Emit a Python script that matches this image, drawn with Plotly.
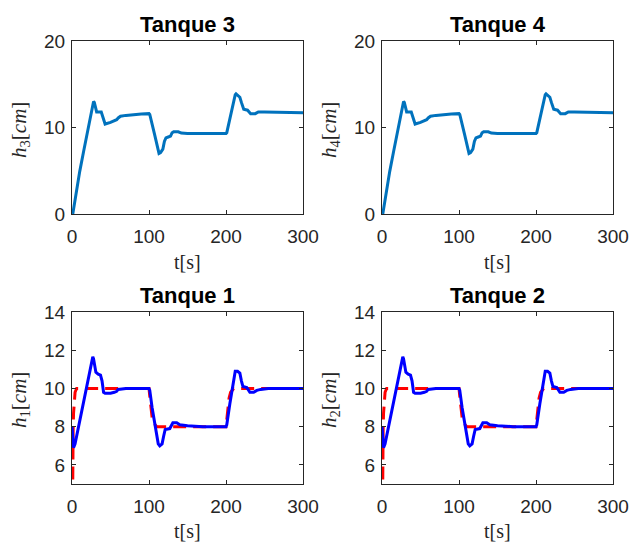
import plotly.graph_objects as go

# ---------------- data ----------------
t_h3 = [1, 5, 10, 15, 20, 25, 28, 29, 31, 32, 38, 40, 43, 50, 58, 60, 63, 70, 80, 90, 100,
        101, 107, 113, 115, 118, 120, 122, 125, 128, 130, 132, 138, 142, 150, 175, 200,
        201, 207, 212, 213, 216, 218, 220, 223, 228, 229, 232, 238, 240, 242, 250, 270, 300]
h3 = [0, 2.4, 4.9, 7.2, 9.3, 11.6, 13.0, 12.9, 12.0, 11.8, 11.8, 11.3, 10.4, 10.6, 10.9, 11.1,
      11.3, 11.4, 11.5, 11.55, 11.6,
      11.5, 9.3, 7.0, 7.1, 7.5, 8.4, 8.8, 8.9, 9.0, 9.4, 9.5, 9.5, 9.35, 9.3, 9.3, 9.3,
      9.4, 11.9, 13.8, 13.9, 13.7, 13.5, 12.9, 12.1, 12.0, 11.9, 11.6, 11.6, 11.7, 11.8, 11.8,
      11.75, 11.7]
t_h4 = list(t_h3)
h4 = list(h3)

t_h1 = [0, 2, 4, 10, 15, 20, 25, 27, 28, 30, 31, 34, 37, 39, 41, 43, 50, 55, 58, 60, 70, 100,
        101, 104, 108, 112, 114, 117, 119, 121, 127, 129, 131, 136, 140, 150, 170, 200,
        201, 205, 209, 212, 215, 218, 220, 222, 227, 229, 231, 236, 240, 245, 255, 300]
h1 = [8.0, 6.9, 7.1, 8.3, 9.4, 10.4, 11.3, 11.65, 11.55, 11.0, 10.85, 10.75, 10.7, 10.4, 9.8,
      9.75, 9.75, 9.8, 9.85, 9.95, 10.0, 10.0,
      9.9, 9.0, 8.0, 7.1, 7.0, 7.1, 7.5, 7.85, 7.9, 8.1, 8.2, 8.2, 8.1, 8.05, 8.0, 8.0,
      8.1, 9.2, 10.3, 10.9, 10.9, 10.8, 10.4, 10.1, 10.05, 9.9, 9.8, 9.8, 9.9, 9.95, 10.0, 10.0]
t_h2 = list(t_h1)
h2 = list(h1)

t_ref = [0, 0.5, 1, 1.5, 2, 3, 4, 6, 100, 101, 102, 103, 104, 106, 110, 200, 201, 202, 203,
         204, 206, 210, 300]
ref = [0, 4.5, 6.5, 7.8, 8.7, 9.5, 9.8, 10.0, 10.0, 9.6, 9.2, 8.8, 8.5, 8.2, 8.0, 8.0, 8.4,
       8.8, 9.2, 9.5, 9.8, 10.0, 10.0]

titles = ["Tanque 3", "Tanque 4", "Tanque 1", "Tanque 2"]
ylabels = ["<i>h</i><sub>3</sub>[<i>cm</i>]", "<i>h</i><sub>4</sub>[<i>cm</i>]",
           "<i>h</i><sub>1</sub>[<i>cm</i>]", "<i>h</i><sub>2</sub>[<i>cm</i>]"]
xlabel = "t[s]"
x_ticks = [0, 100, 200, 300]
y_ticks_top = [0, 10, 20]
y_ticks_bot = [6, 8, 10, 12, 14]

# ---------------- layout geometry ----------------
W, H = 634, 543
def px_x(p):
    return p / W
def px_y(p):
    return (H - p) / H

xdom = [[px_x(72), px_x(303)], [px_x(382), px_x(613)]]
ydom = [[px_y(214), px_y(41)], [px_y(484), px_y(312)]]

fig = go.Figure()

panels = [
    (0, 0, t_h3, h3, "#0072BD"),
    (1, 0, t_h4, h4, "#0072BD"),
    (0, 1, t_h1, h1, "#0000FF"),
    (1, 1, t_h2, h2, "#0000FF"),
]

for i, (c, r, tt, hh, col) in enumerate(panels):
    ax = "" if i == 0 else str(i + 1)
    if r == 1:
        fig.add_trace(go.Scatter(x=t_ref, y=ref, mode="lines",
                                 line=dict(color="#FF0000", width=3, dash="13px,7px"),
                                 xaxis="x" + ax, yaxis="y" + ax, showlegend=False))
    fig.add_trace(go.Scatter(x=tt, y=hh, mode="lines",
                             line=dict(color=col, width=3),
                             xaxis="x" + ax, yaxis="y" + ax, showlegend=False))
    common = dict(showline=True, linecolor="#262626", linewidth=1, mirror="ticks",
                  ticks="inside", ticklen=4, tickcolor="#262626", tickwidth=1,
                  showgrid=False, zeroline=False, automargin=False,
                  tickfont=dict(family="Liberation Sans, Arial", size=19, color="#262626"))
    fig.update_layout(**{
        "xaxis" + ax: dict(domain=xdom[c], range=[0, 300], tickvals=x_ticks,
                           anchor="y" + ax, ticklabelstandoff=5, **common),
        "yaxis" + ax: dict(domain=ydom[r],
                           range=[0, 20] if r == 0 else [5, 14],
                           tickvals=y_ticks_top if r == 0 else y_ticks_bot,
                           anchor="x" + ax, ticklabelstandoff=2, **common),
    })
    xc = (xdom[c][0] + xdom[c][1]) / 2
    ttl_y = 25 if r == 0 else 295
    fig.add_annotation(text="<b>" + titles[i] + "</b>", x=xc, y=px_y(ttl_y),
                       xref="paper", yref="paper", showarrow=False,
                       xanchor="center", yanchor="middle",
                       font=dict(family="Liberation Sans, Arial", size=22, color="#000000"))
    xl_y = 262 if r == 0 else 531
    fig.add_annotation(text=xlabel, x=xc, y=px_y(xl_y), xref="paper", yref="paper",
                       showarrow=False, xanchor="center", yanchor="middle",
                       font=dict(family="Liberation Serif, DejaVu Serif", size=20,
                                 color="#262626"))
    yl_x = 20 + 310 * c
    yl_y = 130 if r == 0 else 400
    fig.add_annotation(text=ylabels[i], x=px_x(yl_x), y=px_y(yl_y), xref="paper",
                       yref="paper", showarrow=False, textangle=-90,
                       xanchor="center", yanchor="middle",
                       font=dict(family="Liberation Serif, DejaVu Serif", size=21,
                                 color="#262626"))

fig.update_layout(width=W, height=H,
                  margin=dict(l=0, r=0, t=0, b=0, pad=0, autoexpand=False),
                  paper_bgcolor="white", plot_bgcolor="white")

fig.write_html("out.html")
